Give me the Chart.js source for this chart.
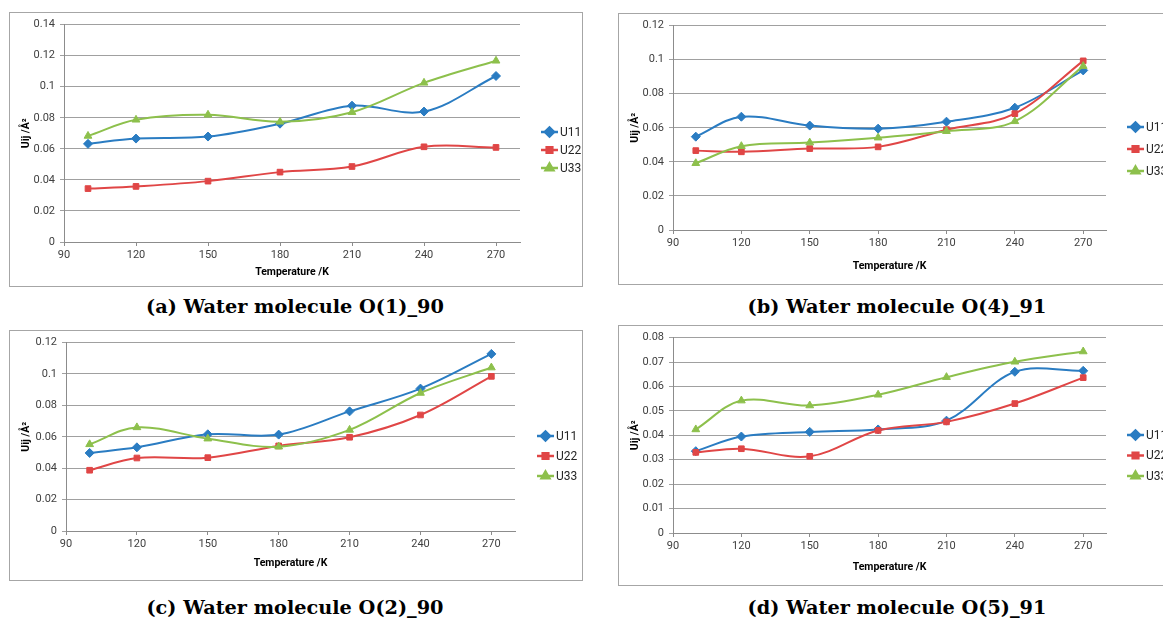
<!DOCTYPE html>
<html>
<head>
<meta charset="utf-8">
<script src="https://cdn.jsdelivr.net/npm/chart.js@4.4.1/dist/chart.umd.min.js"></script>
<style>
  html, body { margin: 0; padding: 0; background: #fff; }
  body { width: 1163px; height: 621px; position: relative; overflow: hidden; }
  .panel { position: absolute; border: 1px solid #a6a6a6; box-sizing: border-box; background: #fff; }
  .panel canvas { display: block; }
  .cap { position: absolute; width: 500px; text-align: center; font-family: "DejaVu Serif", serif;
         font-size: 19.3px; line-height: 26px; color: #000; font-weight: bold; }
</style>
</head>
<body>
<div class="panel" id="boxA" style="left:9px;top:12px;width:574px;height:275px"><canvas id="cA"></canvas></div>
<div class="panel" id="boxB" style="left:618px;top:13px;width:575px;height:272px"><canvas id="cB"></canvas></div>
<div class="panel" id="boxC" style="left:9px;top:330px;width:574px;height:251px"><canvas id="cC"></canvas></div>
<div class="panel" id="boxD" style="left:618px;top:325px;width:575px;height:261px"><canvas id="cD"></canvas></div>

<div class="cap" style="left:45px;top:294px">(a) Water molecule O(1)_90</div>
<div class="cap" style="left:647px;top:294px">(b) Water molecule O(4)_91</div>
<div class="cap" style="left:45px;top:595px">(c) Water molecule O(2)_90</div>
<div class="cap" style="left:647px;top:595px">(d) Water molecule O(5)_91</div>

<script>
// temperatures (K) and axis ticks
const temps = [100, 120, 150, 180, 210, 240, 270];
const xTicks = [90, 120, 150, 180, 210, 240, 270];
const seriesNames = ['U11', 'U22', 'U33'];

// (a) O(1)_90
const a_U11 = [0.0632, 0.0666, 0.0679, 0.0762, 0.0878, 0.0840, 0.1069];
const a_U22 = [0.0344, 0.0358, 0.0392, 0.0450, 0.0486, 0.0613, 0.0609];
const a_U33 = [0.0683, 0.0787, 0.0819, 0.0774, 0.0836, 0.1025, 0.1167];

// (b) O(4)_91
const b_U11 = [0.0548, 0.0665, 0.0613, 0.0595, 0.0636, 0.0718, 0.0937];
const b_U22 = [0.0466, 0.0459, 0.0478, 0.0488, 0.0589, 0.0683, 0.0993];
const b_U33 = [0.0392, 0.0492, 0.0513, 0.0542, 0.0580, 0.0638, 0.0962];

// (c) O(2)_90
const c_U11 = [0.0497, 0.0533, 0.0616, 0.0614, 0.0762, 0.0907, 0.1128];
const c_U22 = [0.0387, 0.0465, 0.0467, 0.0542, 0.0597, 0.0739, 0.0985];
const c_U33 = [0.0552, 0.0660, 0.0588, 0.0537, 0.0644, 0.0879, 0.1041];

// (d) O(5)_91
const d_U11 = [0.0335, 0.0395, 0.0414, 0.0424, 0.0460, 0.0660, 0.0664];
const d_U22 = [0.0330, 0.0345, 0.0314, 0.0420, 0.0455, 0.0530, 0.0636];
const d_U33 = [0.0424, 0.0542, 0.0522, 0.0566, 0.0638, 0.0701, 0.0743];

const colors = ['#2a7cc2', '#e04646', '#8dc04c'];
const markers = ['rectRot', 'rect', 'triangle'];
const markerSize = [4.5, 4, 4.5];
const FONT = 'Roboto, "Liberation Sans", sans-serif';

// legend drawn by hand at the right of the plot (line + marker + label)
const sideLegend = {
  id: 'sideLegend',
  afterDraw(chart, args, opts) {
    const ctx = chart.ctx;
    ctx.save();
    chart.data.datasets.forEach((ds, i) => {
      const y = opts.y + i * opts.gap;
      ctx.strokeStyle = ds.borderColor;
      ctx.lineWidth = 2.5;
      ctx.beginPath();
      ctx.moveTo(opts.x, y);
      ctx.lineTo(opts.x + 17, y);
      ctx.stroke();
      ctx.fillStyle = ds.borderColor;
      Chart.helpers.drawPoint(ctx, { pointStyle: ds.pointStyle, radius: ds.pointRadius, rotation: 0, borderWidth: 1 },
        opts.x + 8.5, y);
      ctx.fillStyle = '#262626';
      ctx.font = '12px ' + FONT;
      ctx.textBaseline = 'middle';
      ctx.textAlign = 'left';
      ctx.fillText(ds.label, opts.x + 19, y + 0.5);
    });
    ctx.restore();
  }
};

function makeChart(id, box, series, yMax, yStep, lay) {
  const el = document.getElementById(id);
  const b = document.getElementById(box);
  el.width = b.clientWidth;
  el.height = b.clientHeight;
  return new Chart(el, {
    type: 'line',
    data: {
      datasets: series.map((vals, i) => ({
        label: seriesNames[i],
        data: temps.map((t, k) => ({ x: t, y: vals[k] })),
        borderColor: colors[i],
        backgroundColor: colors[i],
        borderWidth: 2,
        pointStyle: markers[i],
        pointRadius: markerSize[i],
        pointBorderWidth: 1,
        tension: 0.35,
        order: 2 - i
      }))
    },
    options: {
      responsive: false,
      animation: false,
      events: [],
      layout: { padding: { left: 10, top: lay.top, right: el.width - lay.right, bottom: 0 } },
      plugins: {
        legend: { display: false },
        tooltip: { enabled: false },
        sideLegend: lay.legend
      },
      scales: {
        x: {
          type: 'linear',
          min: 90, max: 280,
          afterBuildTicks: s => { s.ticks = xTicks.map(v => ({ value: v })); },
          afterFit: s => { s.height = el.height - lay.bottom; },
          grid: { drawOnChartArea: false, drawTicks: true, tickLength: 4, color: '#8c8c8c' },
          border: { color: '#8c8c8c', width: 1 },
          ticks: { color: '#404040', font: { family: FONT, size: 11 }, padding: 3, maxRotation: 0 },
          title: { display: true, text: 'Temperature /K', color: '#000',
                   font: { family: FONT, size: 10.5, weight: 'bold' }, padding: { top: 0, bottom: lay.xtPad } }
        },
        y: {
          min: 0, max: yMax,
          ticks: { stepSize: yStep, color: '#404040', font: { family: FONT, size: 11 }, padding: 5,
                   callback: v => String(Number(v.toFixed(3))) },
          afterFit: s => { s.width = lay.left - 10; },
          grid: { color: '#a0a0a0', lineWidth: 1, tickLength: 4 },
          border: { color: '#8c8c8c', width: 1 },
          title: { display: true, text: 'Uij /Å²', color: '#000',
                   font: { family: FONT, size: 10.5, weight: 'bold' }, padding: { top: 0, bottom: 0 } }
        }
      }
    },
    plugins: [sideLegend]
  });
}

makeChart('cA', 'boxA', [a_U11, a_U22, a_U33], 0.14, 0.02,
  { left: 54, right: 510, top: 9, bottom: 229, xtPad: 7, legend: { x: 531, y: 119, gap: 18 } });
makeChart('cB', 'boxB', [b_U11, b_U22, b_U33], 0.12, 0.02,
  { left: 54, right: 487, top: 11, bottom: 216, xtPad: 11, legend: { x: 508, y: 113, gap: 22 } });
makeChart('cC', 'boxC', [c_U11, c_U22, c_U33], 0.12, 0.02,
  { left: 56, right: 505, top: 11, bottom: 200, xtPad: 10, legend: { x: 527, y: 105, gap: 20 } });
makeChart('cD', 'boxD', [d_U11, d_U22, d_U33], 0.08, 0.01,
  { left: 54, right: 487, top: 11, bottom: 207, xtPad: 11, legend: { x: 508, y: 109, gap: 20.5 } });
</script>
</body>
</html>
